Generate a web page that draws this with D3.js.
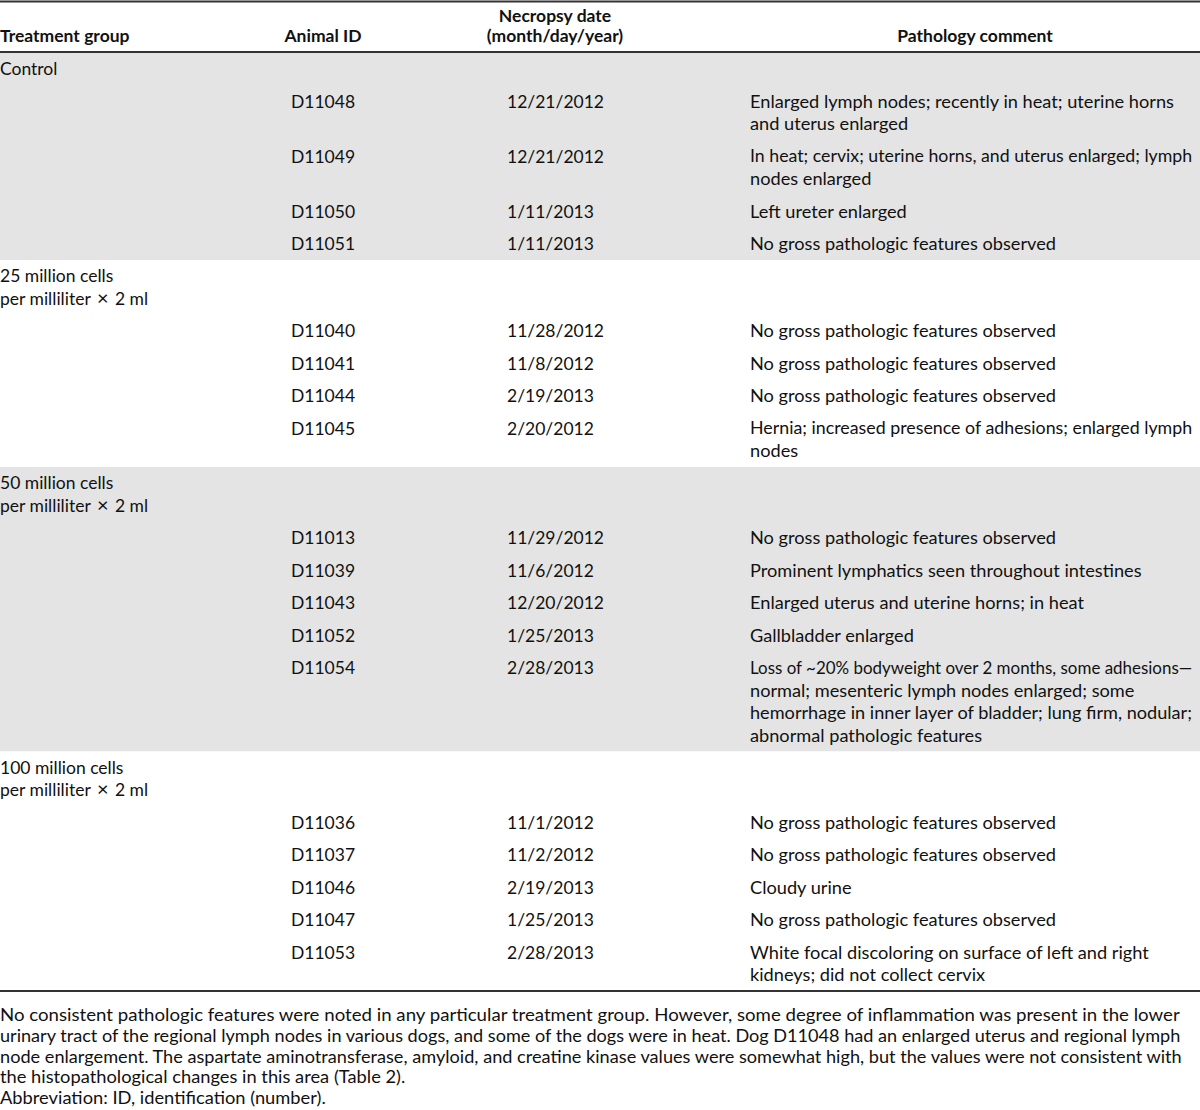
<!DOCTYPE html>
<html>
<head>
<meta charset="utf-8">
<script src="https://cdn.jsdelivr.net/npm/d3@7"></script>
<style>
  body { margin: 0; background: #fff; }
  text { font-family: Lato, "Open Sans", sans-serif; font-size: 17.5px; fill: #111; }
  text.comment { font-size: 18.2px; }
  .head text { font-weight: bold; }
</style>
</head>
<body>
<script>
var width = 1200, height = 1110;

// group labels (one array of lines per group)
var groupLabels = [
  ["Control"],
  ["25 million cells", "per milliliter \u00d7 2 ml"],
  ["50 million cells", "per milliliter \u00d7 2 ml"],
  ["100 million cells", "per milliliter \u00d7 2 ml"]
];

var groupOf = [0, 0, 0, 0, 1, 1, 1, 1, 2, 2, 2, 2, 2, 3, 3, 3, 3, 3];

var animalIds = ["D11048", "D11049", "D11050", "D11051",
  "D11040", "D11041", "D11044", "D11045",
  "D11013", "D11039", "D11043", "D11052", "D11054",
  "D11036", "D11037", "D11046", "D11047", "D11053"];

var necropsyDates = ["12/21/2012", "12/21/2012", "1/11/2013", "1/11/2013",
  "11/28/2012", "11/8/2012", "2/19/2013", "2/20/2012",
  "11/29/2012", "11/6/2012", "12/20/2012", "1/25/2013", "2/28/2013",
  "11/1/2012", "11/2/2012", "2/19/2013", "1/25/2013", "2/28/2013"];

var comments = [
  ["Enlarged lymph nodes; recently in heat; uterine horns", "and uterus enlarged"],
  ["In heat; cervix; uterine horns, and uterus enlarged; lymph", "nodes enlarged"],
  ["Left ureter enlarged"],
  ["No gross pathologic features observed"],
  ["No gross pathologic features observed"],
  ["No gross pathologic features observed"],
  ["No gross pathologic features observed"],
  ["Hernia; increased presence of adhesions; enlarged lymph", "nodes"],
  ["No gross pathologic features observed"],
  ["Prominent lymphatics seen throughout intestines"],
  ["Enlarged uterus and uterine horns; in heat"],
  ["Gallbladder enlarged"],
  ["Loss of ~20% bodyweight over 2 months, some adhesions\u2014", "normal; mesenteric lymph nodes enlarged; some",
   "hemorrhage in inner layer of bladder; lung firm, nodular;", "abnormal pathologic features"],
  ["No gross pathologic features observed"],
  ["No gross pathologic features observed"],
  ["Cloudy urine"],
  ["No gross pathologic features observed"],
  ["White focal discoloring on surface of left and right", "kidneys; did not collect cervix"]
];

var footnotes = [
  "No consistent pathologic features were noted in any particular treatment group. However, some degree of inflammation was present in the lower",
  "urinary tract of the regional lymph nodes in various dogs, and some of the dogs were in heat. Dog D11048 had an enlarged uterus and regional lymph",
  "node enlargement. The aspartate aminotransferase, amyloid, and creatine kinase values were somewhat high, but the values were not consistent with",
  "the histopathological changes in this area (Table 2).",
  "Abbreviation: ID, identification (number)."
];

var svg = d3.select("body").append("svg")
    .attr("width", width)
    .attr("height", height);

// column positions
var col = { group: 0, id: 291, date: 507, comment: 750 };
var lineH = 22.5, rowGap = 32.5, baseOff = 6;

// build the vertical layout
var bands = [], cells = [];
var y = 53;
groupLabels.forEach(function(lab, g) {
  var top = y;
  var cy = top + 16;
  lab.forEach(function(l, i) { cells.push({x: col.group, y: cy + i * lineH, t: l, c: "group"}); });
  var last = cy + (lab.length - 1) * lineH;
  animalIds.forEach(function(id, r) {
    if (groupOf[r] !== g) return;
    var ry = last + rowGap;
    cells.push({x: col.id, y: ry, t: id, c: "id"});
    cells.push({x: col.date, y: ry, t: necropsyDates[r], c: "date"});
    comments[r].forEach(function(l, i) { cells.push({x: col.comment, y: ry + i * lineH, t: l, c: "comment"}); });
    last = ry + (comments[r].length - 1) * lineH;
  });
  y = last + 16;
  bands.push({g: g, y0: top, y1: y});
});

svg.selectAll(".band")
    .data(bands)
  .enter().append("rect")
    .attr("class", "band")
    .attr("x", 0)
    .attr("width", width)
    .attr("y", function(d) { return d.y0; })
    .attr("height", function(d) { return d.y1 - d.y0; })
    .style("fill", function(d) { return d.g % 2 === 0 ? "#e4e4e4" : "#fff"; });

var cellText = svg.selectAll(".cell")
    .data(cells)
  .enter().append("text")
    .attr("class", function(d) { return "cell " + d.c; })
    .attr("x", 0)
    .attr("y", function(d) { return d.y + baseOff; })
    .attr("transform", function(d) { return "translate(" + d.x + ",0)"; });

// the multiplication sign is set a little larger, as in the original
cellText.each(function(d) {
  var t = d3.select(this), parts = d.t.split("\u00d7");
  t.append("tspan").text(parts[0]);
  if (parts.length > 1) {
    t.append("tspan").style("font-size", "20px").attr("dx", 2).text("\u00d7");
    t.append("tspan").attr("dx", 2).text(parts[1]);
  }
});

// squeeze comment lines that would run past the right edge
var maxRight = width - 8;
cellText.filter(function(d) { return d.c === "comment"; })
  .each(function(d) {
    var w = this.getComputedTextLength();
    if (d.x + w > maxRight) {
      d3.select(this).attr("transform", "translate(" + d.x + ",0) scale(" + ((maxRight - d.x) / w) + ",1)");
    }
  });

// header
var header = svg.append("g").attr("class", "head");
header.append("text").attr("x", 0).attr("y", 36).attr("dy", "0.35em").text("Treatment group");
header.append("text").attr("x", 323).attr("y", 36).attr("dy", "0.35em").attr("text-anchor", "middle").text("Animal ID");
header.append("text").attr("x", 555).attr("y", 16).attr("dy", "0.35em").attr("text-anchor", "middle").text("Necropsy date");
header.append("text").attr("x", 555).attr("y", 36).attr("dy", "0.35em").attr("text-anchor", "middle").text("(month/day/year)");
header.append("text").attr("x", 975).attr("y", 36).attr("dy", "0.35em").attr("text-anchor", "middle").text("Pathology comment");

// rules
var rules = [1.5, 52, y];
svg.selectAll(".rule")
    .data(rules)
  .enter().append("line")
    .attr("x1", 0).attr("x2", width)
    .attr("y1", function(d) { return d; })
    .attr("y2", function(d) { return d; })
    .style("stroke", "#333")
    .style("stroke-width", 2);

// footnotes, set in a condensed width like the original
var foot = svg.append("g");
var ft = foot.selectAll("text")
    .data(footnotes)
  .enter().append("text")
    .attr("x", 0)
    .attr("y", function(d, i) { return y + 25 + i * 20.8 + 5; })
    .text(String);
var full = [1180, 1181, 1182];
var ks = [];
ft.each(function(d, i) {
  if (i < full.length) ks.push(full[i] / this.getComputedTextLength());
});
var kAvg = d3.mean(ks);
ft.attr("transform", function(d, i) {
  return "scale(" + (i < ks.length ? ks[i] : kAvg) + ",1)";
});
</script>
</body>
</html>
